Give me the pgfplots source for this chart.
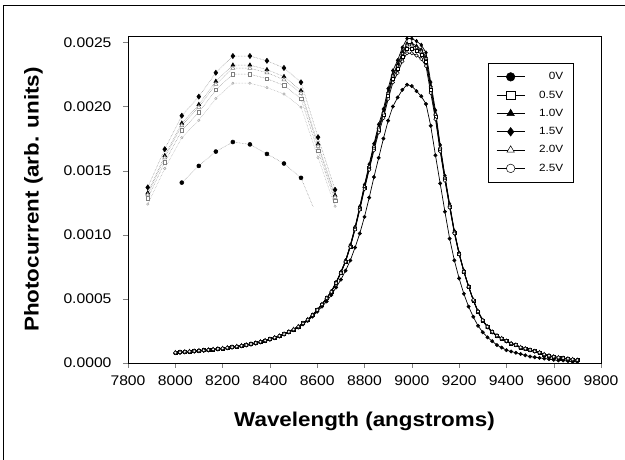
\documentclass[border=0pt]{standalone}
\usepackage{fontspec}
\setmainfont{Liberation Sans}[FakeStretch=1.12]
\usepackage{pgfplots}
\usepackage{pgfplotstable}
\pgfplotsset{compat=1.18}

% photocurrent spectra, columns: 0V 0.5V 1.0V 1.5V 2.0V 2.5V
\pgfplotstableread{
lam  a        b        c        d        e        f
8000 0.000077 0.000082 0.000078 0.000080 0.000084 0.000081
8020 0.000080 0.000085 0.000081 0.000083 0.000087 0.000084
8040 0.000083 0.000088 0.000084 0.000086 0.000090 0.000087
8060 0.000086 0.000091 0.000087 0.000089 0.000093 0.000090
8080 0.000089 0.000094 0.000090 0.000092 0.000096 0.000093
8100 0.000092 0.000097 0.000093 0.000095 0.000099 0.000096
8120 0.000095 0.000100 0.000096 0.000098 0.000102 0.000099
8140 0.000098 0.000103 0.000099 0.000101 0.000105 0.000102
8160 0.000102 0.000107 0.000103 0.000105 0.000109 0.000106
8180 0.000106 0.000111 0.000107 0.000109 0.000113 0.000110
8200 0.000110 0.000115 0.000111 0.000113 0.000117 0.000114
8220 0.000115 0.000120 0.000116 0.000118 0.000122 0.000119
8240 0.000120 0.000125 0.000121 0.000123 0.000127 0.000124
8260 0.000125 0.000130 0.000126 0.000128 0.000132 0.000129
8280 0.000131 0.000136 0.000132 0.000134 0.000138 0.000135
8300 0.000137 0.000142 0.000138 0.000140 0.000144 0.000141
8320 0.000144 0.000149 0.000145 0.000147 0.000151 0.000148
8340 0.000152 0.000157 0.000153 0.000155 0.000159 0.000156
8360 0.000161 0.000166 0.000162 0.000164 0.000168 0.000165
8380 0.000171 0.000176 0.000172 0.000174 0.000178 0.000175
8400 0.000182 0.000187 0.000183 0.000185 0.000189 0.000186
8420 0.000194 0.000199 0.000195 0.000197 0.000201 0.000198
8440 0.000207 0.000212 0.000208 0.000210 0.000214 0.000211
8460 0.000222 0.000227 0.000223 0.000225 0.000229 0.000226
8480 0.000238 0.000244 0.000240 0.000242 0.000246 0.000243
8500 0.000256 0.000263 0.000259 0.000261 0.000265 0.000262
8520 0.000277 0.000285 0.000281 0.000283 0.000287 0.000284
8540 0.000301 0.000310 0.000306 0.000308 0.000312 0.000309
8560 0.000329 0.000339 0.000335 0.000337 0.000341 0.000338
8580 0.000362 0.000374 0.000370 0.000372 0.000376 0.000373
8600 0.000400 0.000414 0.000410 0.000412 0.000416 0.000413
8620 0.000440 0.000457 0.000453 0.000455 0.000459 0.000456
8640 0.000480 0.000506 0.000503 0.000505 0.000508 0.000505
8660 0.000530 0.000556 0.000558 0.000560 0.000558 0.000554
8680 0.000590 0.000625 0.000628 0.000630 0.000627 0.000623
8700 0.000650 0.000704 0.000707 0.000710 0.000706 0.000701
8720 0.000720 0.000792 0.000796 0.000800 0.000795 0.000789
8740 0.000800 0.000910 0.000915 0.000920 0.000913 0.000905
8760 0.000900 0.001047 0.001053 0.001060 0.001051 0.001040
8780 0.001010 0.001202 0.001211 0.001220 0.001208 0.001194
8800 0.001140 0.001367 0.001379 0.001390 0.001375 0.001356
8820 0.001290 0.001522 0.001536 0.001550 0.001531 0.001507
8840 0.001450 0.001675 0.001693 0.001710 0.001687 0.001658
8860 0.001600 0.001819 0.001839 0.001860 0.001833 0.001798
8880 0.001750 0.001934 0.001957 0.001980 0.001949 0.001910
8900 0.001890 0.002086 0.002113 0.002140 0.002104 0.002059
8920 0.002000 0.002218 0.002249 0.002280 0.002239 0.002188
8940 0.002070 0.002294 0.002327 0.002360 0.002316 0.002261
8960 0.002130 0.002388 0.002424 0.002460 0.002412 0.002352
8980 0.002170 0.002454 0.002492 0.002530 0.002479 0.002416
9000 0.002160 0.002454 0.002492 0.002530 0.002479 0.002416
9020 0.002120 0.002435 0.002473 0.002510 0.002460 0.002398
9040 0.002080 0.002407 0.002444 0.002480 0.002431 0.002371
9060 0.002020 0.002351 0.002385 0.002420 0.002374 0.002316
9080 0.001850 0.002133 0.002162 0.002190 0.002152 0.002105
9100 0.001620 0.001924 0.001947 0.001970 0.001939 0.001901
9120 0.001400 0.001666 0.001683 0.001700 0.001677 0.001649
9140 0.001180 0.001435 0.001447 0.001460 0.001443 0.001422
9160 0.000970 0.001222 0.001231 0.001240 0.001228 0.001213
9180 0.000800 0.001017 0.001024 0.001030 0.001022 0.001011
9200 0.000660 0.000851 0.000856 0.000860 0.000854 0.000847
9220 0.000540 0.000714 0.000717 0.000720 0.000716 0.000711
9240 0.000440 0.000596 0.000598 0.000600 0.000597 0.000594
9260 0.000360 0.000488 0.000489 0.000490 0.000494 0.000492
9280 0.000290 0.000399 0.000398 0.000400 0.000405 0.000402
9300 0.000240 0.000331 0.000328 0.000330 0.000335 0.000333
9320 0.000200 0.000282 0.000278 0.000280 0.000285 0.000283
9340 0.000170 0.000242 0.000238 0.000240 0.000245 0.000243
9360 0.000140 0.000212 0.000208 0.000210 0.000215 0.000213
9380 0.000120 0.000192 0.000188 0.000190 0.000194 0.000192
9400 0.000100 0.000172 0.000168 0.000170 0.000174 0.000172
9420 0.000090 0.000152 0.000148 0.000150 0.000154 0.000152
9440 0.000080 0.000142 0.000138 0.000140 0.000143 0.000141
9460 0.000070 0.000122 0.000118 0.000120 0.000124 0.000122
9480 0.000060 0.000112 0.000108 0.000110 0.000114 0.000112
9500 0.000050 0.000102 0.000098 0.000100 0.000104 0.000102
9520 0.000045 0.000092 0.000088 0.000090 0.000094 0.000092
9540 0.000040 0.000082 0.000078 0.000080 0.000084 0.000082
9560 0.000035 0.000067 0.000063 0.000065 0.000069 0.000067
9580 0.000030 0.000057 0.000053 0.000055 0.000059 0.000057
9600 0.000025 0.000049 0.000045 0.000047 0.000051 0.000049
9620 0.000020 0.000043 0.000039 0.000041 0.000045 0.000043
9640 0.000020 0.000038 0.000034 0.000036 0.000040 0.000038
9660 0.000015 0.000033 0.000029 0.000031 0.000035 0.000033
9680 0.000010 0.000028 0.000024 0.000026 0.000030 0.000028
9700 0.000010 0.000023 0.000019 0.000021 0.000025 0.000023
}\spectra

\pgfplotsset{
  ser/.style={black, line width=0.7pt, mark size=1.7pt,
    mark options={solid, line width=0.5pt}},
  openmark/.style={mark options={solid, fill=white, line width=0.5pt}},
}

\begin{document}
\begin{tikzpicture}
\useasboundingbox (-128pt,-97pt) rectangle (497pt,363pt);
% frame of the figure (only left and top edges are inside the scan)
\draw[line width=0.7pt] (-125pt,-97pt) -- (-125pt,358pt) -- (497pt,358pt);

\begin{axis}[
  at={(0pt,0pt)}, anchor=south west,
  scale only axis, width=473pt, height=327pt,
  xmin=7800, xmax=9800, ymin=0, ymax=0.00255,
  xtick={7800,8000,...,9800},
  ytick={0,0.0005,0.001,0.0015,0.002,0.0025},
  tick align=outside, xtick pos=bottom, ytick pos=left,
  major tick length=5pt,
  axis line style={line width=0.7pt},
  scaled y ticks=false,
  tick label style={font=\fontsize{14}{16}\selectfont},
  yticklabel style={xshift=-8pt, /pgf/number format/.cd, fixed, fixed zerofill,
    precision=4, assume math mode=true},
  xticklabel style={yshift=-4pt, /pgf/number format/.cd, set thousands separator={},
    assume math mode=true},
  xlabel={Wavelength (angstroms)},
  xlabel style={font=\fontsize{20}{24}\selectfont\bfseries,
    at={(axis description cs:0.5,-0.179)}, anchor=center},
  ylabel={Photocurrent (arb. units)},
  ylabel style={font=\fontsize{20}{24}\selectfont\bfseries,
    at={(axis description cs:-0.2,0.5)}, anchor=center},
  legend style={at={(axis description cs:0.761,0.917)}, anchor=north west,
    draw=black, line width=0.6pt, font=\fontsize{10.5}{12}\selectfont,
    row sep=5.5pt, inner xsep=8pt, inner ysep=7pt,
    /tikz/every odd column/.append style={column sep=12pt}},
  legend cell align=right,
  legend image code/.code={
    \draw[#1, line width=0.8pt] (0pt,0pt) -- (28pt,0pt);
    \draw[#1, line width=0.6pt, mark size=4.3pt] plot coordinates {(14pt,0pt)};
  },
]
\addplot[ser, mark=*] table[x=lam, y=a] {\spectra};
\addlegendentry{0V}
\addplot[ser, mark=square*, openmark, mark size=1.5pt] table[x=lam, y=b] {\spectra};
\addlegendentry{0.5V}
\addplot[ser, mark=triangle*, mark size=1.9pt] table[x=lam, y=c] {\spectra};
\addlegendentry{1.0V}
\addplot[ser, mark=diamond*, mark size=1.9pt] table[x=lam, y=d] {\spectra};
\addlegendentry{1.5V}
\addplot[ser, mark=triangle*, openmark, mark size=1.9pt] table[x=lam, y=e] {\spectra};
\addlegendentry{2.0V}
\addplot[ser, mark=*, openmark] table[x=lam, y=f] {\spectra};
\addlegendentry{2.5V}
\end{axis}

% magnified view of the peak
\begin{axis}[
  at={(2.7pt,156.5pt)}, anchor=south west,
  scale only axis, width=221.4pt, height=167.2pt,
  xmin=8860, xmax=9120, ymin=0.0019, ymax=0.0026,
  axis lines=none,
]
\addplot[gray, densely dotted, line width=0.5pt, mark=*, mark size=2pt,
  mark options={solid, black}, restrict x to domain=8910:9090]
  table[x=lam, y=a] {\spectra};
\addplot[gray, densely dotted, line width=0.5pt, mark=square*, mark size=1.8pt,
  mark options={solid, gray, fill=white}, restrict x to domain=8870:9110]
  table[x=lam, y=b] {\spectra};
\addplot[gray, densely dotted, line width=0.5pt, mark=triangle*, mark size=2.3pt,
  mark options={solid, black}, restrict x to domain=8870:9110]
  table[x=lam, y=c] {\spectra};
\addplot[gray, densely dotted, line width=0.5pt, mark=triangle*, mark size=2.3pt,
  mark options={solid, gray, fill=white}, restrict x to domain=8870:9110]
  table[x=lam, y=e] {\spectra};
\addplot[gray!70, densely dotted, line width=0.5pt, mark=*, mark size=1.2pt,
  mark options={solid, gray!70, fill=white}, restrict x to domain=8870:9110]
  table[x=lam, y=f] {\spectra};
\addplot[gray, densely dotted, line width=0.5pt, mark=diamond*, mark size=2.6pt,
  mark options={solid, black}, restrict x to domain=8870:9110]
  table[x=lam, y=d] {\spectra};
\end{axis}
\end{tikzpicture}
\end{document}
